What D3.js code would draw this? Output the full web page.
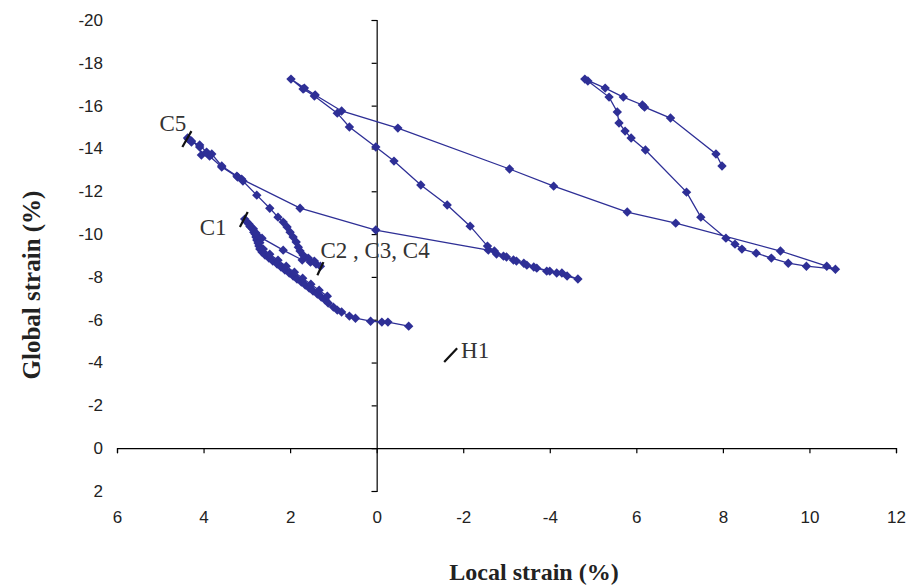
<!DOCTYPE html>
<html>
<head>
<meta charset="utf-8">
<script src="https://cdn.jsdelivr.net/npm/d3@7"></script>
<style>
  body { margin: 0; background: #fff; }
  svg { display: block; }
</style>
</head>
<body>
<svg id="chart" width="914" height="586"></svg>
<script>
// axis ticks (labels copied as printed on the figure)
var xTicks = [6, 4, 2, 0, -2, -4, -6, -8, -10, -12];
var xTickLabels = ['6', '4', '2', '0', '-2', '-4', '6', '8', '10', '12'];
var yTicks = [-20, -18, -16, -14, -12, -10, -8, -6, -4, -2, 0, 2];

// [local strain, global strain] pairs
var c1Band = [
  [3.05, -10.70], [3.00, -10.56], [2.95, -10.47], [2.91, -10.33], [2.86, -10.23],
  [2.84, -10.09], [2.81, -10.00], [2.79, -9.86], [2.77, -9.72], [2.74, -9.58],
  [2.72, -9.44], [2.70, -9.30], [2.65, -9.16], [2.58, -9.02], [2.49, -8.88],
  [2.40, -8.74], [2.30, -8.60], [2.21, -8.46], [2.12, -8.32], [2.02, -8.18],
  [1.93, -8.04], [1.84, -7.90], [1.74, -7.76], [1.65, -7.62], [1.56, -7.48],
  [1.47, -7.34], [1.37, -7.20], [1.28, -7.06], [1.19, -6.92], [1.12, -6.78],
  [1.00, -6.59], [0.91, -6.45], [0.81, -6.36], [0.63, -6.17], [0.49, -6.07],
  [0.14, -5.93], [-0.12, -5.89], [-0.26, -5.89], [-0.74, -5.70]
];

// unloading back up the band, then out to C2 and up to C5
var c2Path = [
  [1.14, -7.10], [1.33, -7.38], [1.52, -7.66], [1.71, -7.94], [1.90, -8.22],
  [2.09, -8.50], [2.28, -8.78], [2.47, -9.06], [2.62, -9.30], [2.70, -9.60],
  [2.76, -9.95], [2.85, -10.25],
  [2.93, -10.37], [2.79, -10.05], [2.65, -9.81], [2.16, -9.25], [1.72, -8.79],
  [1.53, -8.69], [1.40, -8.60], [1.30, -8.50], [1.44, -8.74], [1.58, -8.88],
  [1.70, -9.02], [1.77, -9.21], [1.81, -9.39], [1.86, -9.63], [1.93, -9.86],
  [2.00, -10.09], [2.07, -10.33], [2.16, -10.56], [2.28, -10.79], [2.47, -11.21],
  [2.77, -11.82], [3.09, -12.48], [3.21, -12.66], [3.58, -13.13], [3.86, -13.64],
  [4.05, -13.69], [4.09, -14.07], [4.28, -14.35], [4.35, -14.44]
];

var c5Path = [
  [4.37, -14.49], [4.28, -14.30], [4.09, -14.16], [3.93, -13.83], [3.81, -13.74],
  [3.58, -13.18], [3.23, -12.71], [3.12, -12.57], [1.77, -11.21], [0.02, -10.19],
  [-2.58, -9.25], [-2.77, -9.07], [-3.00, -8.93], [-3.23, -8.74], [-3.47, -8.55],
  [-3.70, -8.41], [-3.93, -8.27], [-4.16, -8.18], [-4.40, -8.04], [-4.65, -7.90],
  [-4.28, -8.18], [-4.00, -8.27], [-3.63, -8.46], [-3.40, -8.64], [-3.16, -8.79],
  [-2.93, -8.97], [-2.72, -9.21], [-2.56, -9.44], [-2.16, -10.37], [-1.63, -11.36],
  [-1.02, -12.29], [-0.40, -13.41], [0.02, -14.07], [0.63, -15.00], [0.91, -15.65],
  [1.44, -16.45], [1.70, -16.78], [1.98, -17.24], [1.67, -16.82], [1.42, -16.50],
  [0.81, -15.75], [-0.49, -14.95], [-3.07, -13.04], [-4.09, -12.24], [-5.79, -11.03],
  [-6.91, -10.51], [-9.33, -9.21], [-10.40, -8.50], [-10.60, -8.36], [-9.93, -8.50],
  [-9.51, -8.64], [-9.12, -8.88], [-8.77, -9.11], [-8.44, -9.30], [-8.28, -9.53],
  [-8.07, -9.81], [-7.49, -10.79], [-7.16, -11.96], [-6.21, -13.93], [-5.88, -14.49],
  [-5.74, -14.81], [-5.60, -15.19], [-5.56, -15.70], [-5.37, -16.40], [-4.88, -17.15],
  [-4.81, -17.24], [-5.28, -16.82], [-5.70, -16.40], [-6.14, -16.03], [-6.19, -15.93],
  [-6.79, -15.42], [-7.84, -13.74], [-7.98, -13.18]
];

var seriesList = [c1Band, c2Path, c5Path];

// test labels: text anchor + short tick mark, all in data units
var noteLabels = ['C5', 'C1', 'C2 , C3, C4', 'H1'];
var noteText = [[5.02, -14.81], [4.09, -9.95], [1.30, -8.88], [-1.95, -4.21]];
var noteMark = [
  [[4.49, -14.07], [4.28, -14.81]],
  [[3.16, -10.33], [2.98, -11.03]],
  [[1.37, -8.08], [1.23, -8.69]],
  [[-1.56, -4.02], [-1.86, -4.67]]
];

var blue = '#2e2f96';
var svg = d3.select('#chart');

var x = d3.scaleLinear().domain([6, -12]).range([117, 896]);
var y = d3.scaleLinear().domain([-20, 2]).range([20, 491]);

//-------------------------------
// axes, crossing at (0,0)

svg.append('g')
  .attr('transform', 'translate(' + x(0) + ',0)')
  .call(d3.axisLeft(y).tickValues(yTicks).tickSize(5).tickFormat(''))
  .call(function(g) { g.selectAll('path,line').attr('stroke', '#000').attr('stroke-width', 1.2); });

svg.append('g')
  .attr('transform', 'translate(0,' + y(0) + ')')
  .call(d3.axisBottom(x).tickValues(xTicks).tickSize(5).tickSizeOuter(5).tickFormat(''))
  .call(function(g) { g.selectAll('path,line').attr('stroke', '#000').attr('stroke-width', 1.2); });

// tick labels sit at the frame edges, not on the axes
svg.append('g')
  .attr('transform', 'translate(103,0)')
  .call(d3.axisLeft(y).tickValues(yTicks).tickSize(0).tickPadding(0)
    .tickFormat(function(d) { return String(d); }))
  .call(function(g) {
    g.select('.domain').remove();
    g.selectAll('text').attr('font-family', 'Liberation Sans, Arial, sans-serif')
      .attr('font-size', 17).attr('fill', '#222');
  });

svg.append('g')
  .attr('transform', 'translate(0,' + (y(2) + 20) + ')')
  .call(d3.axisBottom(x).tickValues(xTicks).tickSize(0).tickPadding(0)
    .tickFormat(function(d, i) { return xTickLabels[i]; }))
  .call(function(g) {
    g.select('.domain').remove();
    g.selectAll('text').attr('font-family', 'Liberation Sans, Arial, sans-serif')
      .attr('font-size', 17).attr('fill', '#222');
  });

// axis titles
svg.append('text')
  .attr('x', 534).attr('y', 580)
  .attr('text-anchor', 'middle')
  .attr('font-family', 'Liberation Serif, Times New Roman, serif')
  .attr('font-weight', 'bold').attr('font-size', 24).attr('fill', '#222')
  .text('Local strain (%)');

svg.append('text')
  .attr('transform', 'translate(40,285) rotate(-90)')
  .attr('text-anchor', 'middle')
  .attr('font-family', 'Liberation Serif, Times New Roman, serif')
  .attr('font-weight', 'bold').attr('font-size', 25).attr('fill', '#222')
  .text('Global strain (%)');

//-------------------------------
// series: thin line + diamond markers

var line = d3.line()
  .x(function(d) { return x(d[0]); })
  .y(function(d) { return y(d[1]); });

var diamond = d3.symbol().type(d3.symbolSquare).size(44);

seriesList.forEach(function(s) {
  svg.append('path')
    .datum(s)
    .attr('d', line)
    .attr('fill', 'none')
    .attr('stroke', blue)
    .attr('stroke-width', 1.3);

  svg.append('g').selectAll('path')
    .data(s)
    .enter().append('path')
    .attr('d', diamond)
    .attr('transform', function(d) {
      return 'translate(' + x(d[0]) + ',' + y(d[1]) + ') rotate(45)';
    })
    .attr('fill', blue);
});

//-------------------------------
// annotations

noteLabels.forEach(function(label, i) {
  svg.append('line')
    .attr('x1', x(noteMark[i][0][0])).attr('y1', y(noteMark[i][0][1]))
    .attr('x2', x(noteMark[i][1][0])).attr('y2', y(noteMark[i][1][1]))
    .attr('stroke', '#111').attr('stroke-width', 2.2);

  svg.append('text')
    .attr('x', x(noteText[i][0])).attr('y', y(noteText[i][1]))
    .attr('font-family', 'Liberation Serif, Times New Roman, serif')
    .attr('font-size', 23).attr('fill', '#333')
    .text(label);
});
</script>
</body>
</html>
